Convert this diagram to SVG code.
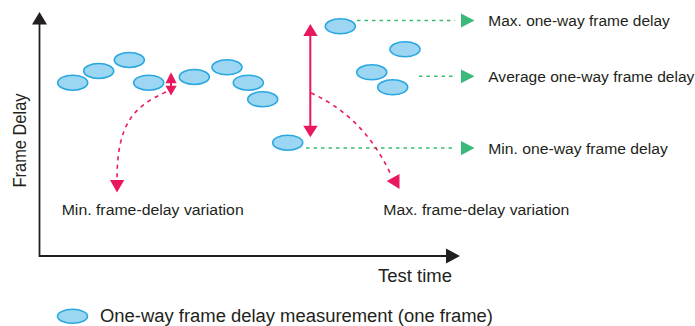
<svg xmlns="http://www.w3.org/2000/svg" width="695" height="326" viewBox="0 0 695 326">
  <defs>
    <style>
      .frame { fill: #9dd6f2; stroke: #29a8e0; stroke-width: 1.6; }
      .axis { stroke: #231f20; stroke-width: 1.8; fill: none; }
      .axis-head { fill: #231f20; }
      .level { stroke: #3bb97a; stroke-width: 1.5; stroke-dasharray: 3.5 4; fill: none; }
      .level-head { fill: #3bb97a; }
      .var { stroke: #e9175c; stroke-width: 1.6; stroke-dasharray: 4 4.5; fill: none; }
      .range { stroke: #e9175c; stroke-width: 2; fill: none; }
      .red-head { fill: #e9175c; }
      .label { font-family: "Liberation Sans", Arial, sans-serif; fill: #231f20; }
      .small { font-size: 15.5px; }
      .big { font-size: 18px; }
    </style>
  </defs>

  <!-- axes -->
  <g id="axes">
    <path class="axis" d="M39.5 23 V256 H447"/>
    <polygon class="axis-head" points="32,24.5 47,24.5 39.5,12"/>
    <polygon class="axis-head" points="446,248.5 446,263.5 460,256"/>
    <text class="label big" transform="translate(25.5,187.5) rotate(-90)" textLength="94" lengthAdjust="spacingAndGlyphs">Frame Delay</text>
    <text class="label big" x="378" y="281.5" textLength="74" lengthAdjust="spacingAndGlyphs">Test time</text>
  </g>

  <!-- measured frames -->
  <g id="frames">
    <ellipse class="frame" cx="72.7" cy="82.7" rx="15" ry="7.5"/>
    <ellipse class="frame" cx="98.7" cy="71" rx="15" ry="7.5"/>
    <ellipse class="frame" cx="129.3" cy="60" rx="15" ry="7.5"/>
    <ellipse class="frame" cx="148.7" cy="82.7" rx="15" ry="7.5"/>
    <ellipse class="frame" cx="194.3" cy="77" rx="15" ry="7.5"/>
    <ellipse class="frame" cx="227" cy="67.3" rx="15" ry="7.5"/>
    <ellipse class="frame" cx="248.3" cy="82.7" rx="15" ry="7.5"/>
    <ellipse class="frame" cx="262.7" cy="99.3" rx="15" ry="7.5"/>
    <ellipse class="frame" cx="287.7" cy="142.7" rx="15" ry="7.5"/>
    <ellipse class="frame" cx="340.3" cy="26.3" rx="15" ry="7.5"/>
    <ellipse class="frame" cx="405" cy="49.3" rx="15" ry="7.5"/>
    <ellipse class="frame" cx="371.7" cy="72.3" rx="15" ry="7.5"/>
    <ellipse class="frame" cx="392.7" cy="87.3" rx="15" ry="7.5"/>
  </g>

  <!-- connectors -->
  <g id="connectors">
    <!-- delay levels -->
    <path class="level" d="M357 20.5 H455"/>
    <polygon class="level-head" points="461,13.5 461,27.5 474.5,20.5"/>
    <path class="level" d="M419 76.3 H455"/>
    <polygon class="level-head" points="461,69.5 461,83.3 474.5,76.3"/>
    <path class="level" d="M306 148 H455"/>
    <polygon class="level-head" points="461,141 461,155.3 474.5,148"/>

    <!-- small variation -->
    <line class="range" x1="171" y1="80" x2="171" y2="89" stroke-width="1.2"/>
    <polygon class="red-head" points="165.5,83.3 176.7,83.3 171,72.3"/>
    <polygon class="red-head" points="165.5,85.7 176.7,85.7 171,95.5"/>
    <path class="var" d="M166 92 C135 106 117 122 117 180"/>
    <polygon class="red-head" points="110,180 124.3,180 117,192.5"/>

    <!-- large variation -->
    <line class="range" x1="310.3" y1="34" x2="310.3" y2="128"/>
    <polygon class="red-head" points="303.3,36 317.7,36 310.3,24"/>
    <polygon class="red-head" points="303.3,125.7 317.7,125.7 310.3,137.3"/>
    <path class="var" d="M311 93 C340 106 370 130 390 173"/>
    <polygon class="red-head" points="399.5,174 386.7,181 399.5,189"/>
  </g>

  <!-- labels -->
  <g id="labels">
    <text class="label small" x="488.3" y="26" textLength="181.5" lengthAdjust="spacingAndGlyphs">Max. one-way frame delay</text>
    <text class="label small" x="488.3" y="81.7" textLength="206" lengthAdjust="spacingAndGlyphs">Average one-way frame delay</text>
    <text class="label small" x="488.3" y="154" textLength="179.5" lengthAdjust="spacingAndGlyphs">Min. one-way frame delay</text>
    <text class="label small" x="61.7" y="215" textLength="182" lengthAdjust="spacingAndGlyphs">Min. frame-delay variation</text>
    <text class="label small" x="383.3" y="215" textLength="186" lengthAdjust="spacingAndGlyphs">Max. frame-delay variation</text>
  </g>

  <!-- legend -->
  <g id="legend">
    <ellipse class="frame" cx="72.5" cy="316.3" rx="15" ry="7"/>
    <text class="label big" x="100" y="322" font-size="18.5" textLength="393" lengthAdjust="spacingAndGlyphs">One-way frame delay measurement (one frame)</text>
  </g>
</svg>
